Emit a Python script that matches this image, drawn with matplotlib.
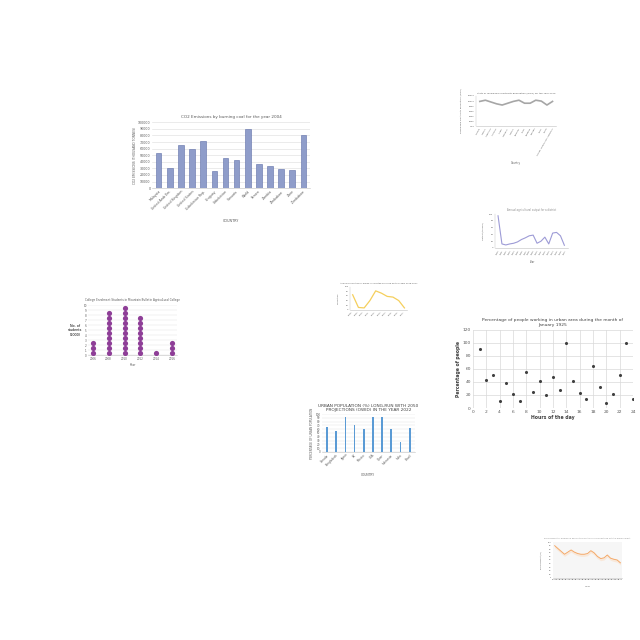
import matplotlib
matplotlib.use("Agg")
from matplotlib import pyplot as plt
import numpy as np

plt.rcParams['font.family'] = ['DejaVu Sans']

# CO2 emissions chart
co2_countries = ['Malaysia', 'United Arab Em.', 'United Kingdom', 'United States', 'Uzbekistan Rep.',
                 'Uruguay', 'Uzbekistan', 'Vanuatu', 'World', 'Yemen', 'Zambia',
                 'Zimbabwe', 'Zaire', 'Zimbabwe ']
co2_values = [54000, 30000, 65000, 59000, 71000, 26000, 45000, 43000, 90000, 37000, 33000, 29000, 27000, 80000]

# grey line chart (top right)
grey_labels = ['Albania', 'Algeria', 'Argentina', 'Armenia', 'Aruba', 'Australia', 'Austria', 'Belgium',
               'Brazil', 'Bulgaria', 'Canada', 'Chile', 'China', 'Congo, Democratic Republic']
grey_values = [82, 86, 80, 74, 70, 76, 82, 86, 76, 76, 86, 83, 70, 82]

# lavender line chart
lav_labels = [str(y) for y in range(2000, 2018)]
lav_values = [95, 12, 9, 12, 14, 18, 25, 30, 36, 38, 14, 20, 32, 12, 44, 46, 36, 8]

# dot plot
dot_years = ['2006', '2008', '2010', '2012', '2014', '2016']
dot_counts = [3, 9, 10, 8, 1, 3]

# yellow line chart
yel_labels = ['2008', '2009', '2010', '2011', '2012', '2013', '2014', '2015', '2016', '2017']
yel_values = [65, 10, 8, 40, 82, 72, 58, 55, 40, 8]

# scatter chart
hours = list(range(1, 25))
pct_people = [90, 43, 50, 10, 39, 22, 11, 55, 24, 41, 20, 47, 27, 100, 42, 23, 14, 64, 32, 8, 21, 50, 100, 14]

# urban population bars
urb_countries = ['Canada', 'Bangladesh', 'Japan', 'UK', 'Mexico', 'USA', 'Qatar', 'Indonesia', 'India', 'Brazil']
urb_values = [66, 56, 92, 72, 60, 92, 93, 60, 25, 62]

# orange line chart
ora_labels = [str(y) for y in range(2000, 2021)]
ora_values = [90, 82, 74, 66, 72, 78, 72, 68, 66, 66, 68, 76, 70, 60, 54, 56, 64, 55, 52, 50, 42]


def tiny(ax, fs=2.0):
    ax.tick_params(labelsize=fs, length=0, pad=1, colors='#595959')
    for s in ['top', 'right', 'left']:
        ax.spines[s].set_visible(False)
    ax.spines['bottom'].set_linewidth(0.4)
    ax.spines['bottom'].set_color('#bfbfbf')


def left_line(ax):
    ax.spines['left'].set_visible(True)
    ax.spines['left'].set_linewidth(0.3)
    ax.spines['left'].set_color('#bfbfbf')


fig = plt.figure(figsize=(6.4, 6.4), dpi=100)
fig.patch.set_facecolor('white')

# chart 1
ax1 = fig.add_axes([0.2375, 0.706, 0.247, 0.103])
x = np.arange(len(co2_countries))
ax1.bar(x, co2_values, width=0.5, color='#8f9dca', edgecolor='#5f6fa8', linewidth=0.4, zorder=3)
ax1.set_ylim(0, 100000)
ax1.set_yticks(np.arange(0, 100001, 10000))
ax1.yaxis.grid(True, color='#dcdcdc', linewidth=0.4, zorder=0)
ax1.set_xticks(x)
ax1.set_xticklabels(co2_countries, rotation=45, ha='right', rotation_mode='anchor')
ax1.set_xlim(-0.6, len(co2_countries) - 0.4)
tiny(ax1, 2.3)
ax1.set_title('CO2 Emissions by burning coal for the year 2004', fontsize=3.0, color='#595959', pad=3)
ax1.set_xlabel('COUNTRY', fontsize=2.4, color='#595959', labelpad=6)
ax1.set_ylabel('CO2 EMISSIONS (THOUSAND TONNES)', fontsize=2.2, color='#595959', labelpad=1)

# chart 2
ax2 = fig.add_axes([0.744, 0.803, 0.125, 0.047])
ax2.plot(range(len(grey_values)), grey_values, color='#a6a6a6', linewidth=1.2)
ax2.set_ylim(0, 100)
ax2.set_yticks(np.linspace(0, 100, 7))
ax2.set_yticklabels(['0.00', '2000', '4000', '6000', '8000', '10000', '12000'])
ax2.set_xticks(range(len(grey_labels)))
ax2.set_xticklabels(grey_labels, rotation=60, ha='right', rotation_mode='anchor')
tiny(ax2, 1.6)
left_line(ax2)
ax2.set_title('Stats of renewable electricity generation (GWh) for the Year 2006', fontsize=1.7, color='#595959', pad=2)
ax2.set_xlabel('Country', fontsize=1.8, color='#595959')
ax2.set_ylabel('Renewable electricity generation (GWh)', fontsize=1.6, color='#595959')

# chart 3
ax3 = fig.add_axes([0.773, 0.6125, 0.114, 0.053])
ax3.plot(range(len(lav_values)), lav_values, color='#9d9bd6', linewidth=0.8)
ax3.set_ylim(0, 100)
ax3.set_yticks(np.arange(0, 101, 20))
ax3.set_xticks(range(len(lav_labels)))
ax3.set_xticklabels(lav_labels, rotation=60)
tiny(ax3, 1.6)
left_line(ax3)
ax3.set_title('Annual agricultural output for a district', fontsize=1.8, color='#8c8c8c', pad=2)
ax3.set_xlabel('Year', fontsize=1.8, color='#595959')
ax3.set_ylabel('Output (tonnes)', fontsize=1.6, color='#595959')

# chart 4
ax4 = fig.add_axes([0.1375, 0.445, 0.139, 0.078])
for i, c in enumerate(dot_counts):
    ax4.scatter([i] * c, np.arange(1, c + 1) - 0.5, s=14, color='#8e3e97', zorder=3, linewidths=0)
ax4.set_ylim(0, 10)
ax4.set_yticks(range(0, 11))
ax4.set_xticks(range(len(dot_years)))
ax4.set_xticklabels(dot_years)
ax4.set_xlim(-0.3, len(dot_years) - 0.7)
ax4.yaxis.grid(True, color='#e0e0e0', linewidth=0.3, zorder=0)
tiny(ax4, 2.0)
ax4.set_title('College Enrolment Students in Mountain Bulletin Agricultural College', fontsize=2.0, color='#595959', pad=3)
ax4.set_xlabel('Year', fontsize=2.2, color='#595959', labelpad=2)
ax4.set_ylabel('No. of\nstudents\n(1000)', fontsize=2.4, rotation=0, labelpad=6, va='center')

# chart 5
ax5 = fig.add_axes([0.547, 0.516, 0.089, 0.036])
ax5.plot(range(len(yel_values)), yel_values, color='#f5cf5c', linewidth=0.9)
ax5.set_ylim(0, 100)
ax5.set_yticks(np.arange(0, 101, 20))
ax5.set_xticks(range(len(yel_labels)))
ax5.set_xticklabels(yel_labels, rotation=45, ha='right')
tiny(ax5, 1.5)
left_line(ax5)
ax5.set_title('Annual production of maize in selected province for the years 2008-2017', fontsize=1.5, color='#595959', pad=2)
ax5.set_ylabel('Production', fontsize=1.5, color='#595959')

# chart 6
ax6 = fig.add_axes([0.739, 0.3625, 0.25, 0.122])
ax6.scatter(hours, pct_people, s=5, color='#404040', zorder=3, linewidths=0)
ax6.set_xlim(0, 24)
ax6.set_ylim(0, 120)
ax6.set_xticks(range(0, 25, 2))
ax6.set_yticks(range(0, 121, 20))
ax6.grid(True, color='#d9d9d9', linewidth=0.5, zorder=0)
ax6.tick_params(labelsize=3.2, length=0, pad=1.5, colors='#595959')
for s in ax6.spines.values():
    s.set_visible(False)
ax6.set_title('Percentage of people working in urban area during the month of\nJanuary 1925',
              fontsize=3.2, color='#404040', pad=3)
ax6.set_xlabel('Hours of the day', fontsize=3.3, fontweight='bold', color='#404040', labelpad=1)
ax6.set_ylabel('Percentage of people', fontsize=3.3, fontweight='bold', color='#404040', labelpad=1)

# chart 7
ax7 = fig.add_axes([0.503, 0.294, 0.145, 0.059])
xu = np.arange(len(urb_countries))
ax7.bar(xu, urb_values, width=0.18, color='#5b9bd5', zorder=3)
ax7.set_ylim(0, 100)
ax7.set_yticks(range(0, 101, 10))
ax7.set_xticks(xu)
ax7.set_xticklabels(urb_countries, rotation=45, ha='right', rotation_mode='anchor')
ax7.yaxis.grid(True, color='#e0e0e0', linewidth=0.3, zorder=0)
tiny(ax7, 2.0)
ax7.set_title('URBAN POPULATION (%) LONG-RUN WITH 2050\nPROJECTIONS (OWID) IN THE YEAR 2022', fontsize=3.1, color='#404040', pad=2)
ax7.set_xlabel('COUNTRY', fontsize=2.2, color='#595959', labelpad=4)
ax7.set_ylabel('PERCENTAGE OF URBAN POPULATION', fontsize=2.0, color='#595959', labelpad=1)

# chart 8
ax8 = fig.add_axes([0.864, 0.097, 0.108, 0.056])
ax8.set_facecolor('#f6f6f6')
xo = np.arange(len(ora_values))
ax8.plot(xo, ora_values, color='#f4a460', linewidth=0.6, zorder=3)
ax8.fill_between(xo, np.array(ora_values) - 6, np.array(ora_values) + 3, color='#fbe0c8', alpha=0.6, linewidth=0)
ax8.set_ylim(0, 100)
ax8.set_yticks(range(0, 101, 10))
ax8.set_xticks(xo)
ax8.set_xticklabels(ora_labels, rotation=0)
ax8.set_xlim(-0.5, len(ora_values) - 0.5)
tiny(ax8, 1.4)
ax8.set_title('Employment of women in agriculture sector as a percentage of total employment', fontsize=1.5, color='#8c8c8c', pad=2)
ax8.set_xlabel('Year', fontsize=1.6, color='#595959')
ax8.set_ylabel('Employment (%)', fontsize=1.5, color='#595959')

fig.savefig('out.png', dpi=100, facecolor='white')
